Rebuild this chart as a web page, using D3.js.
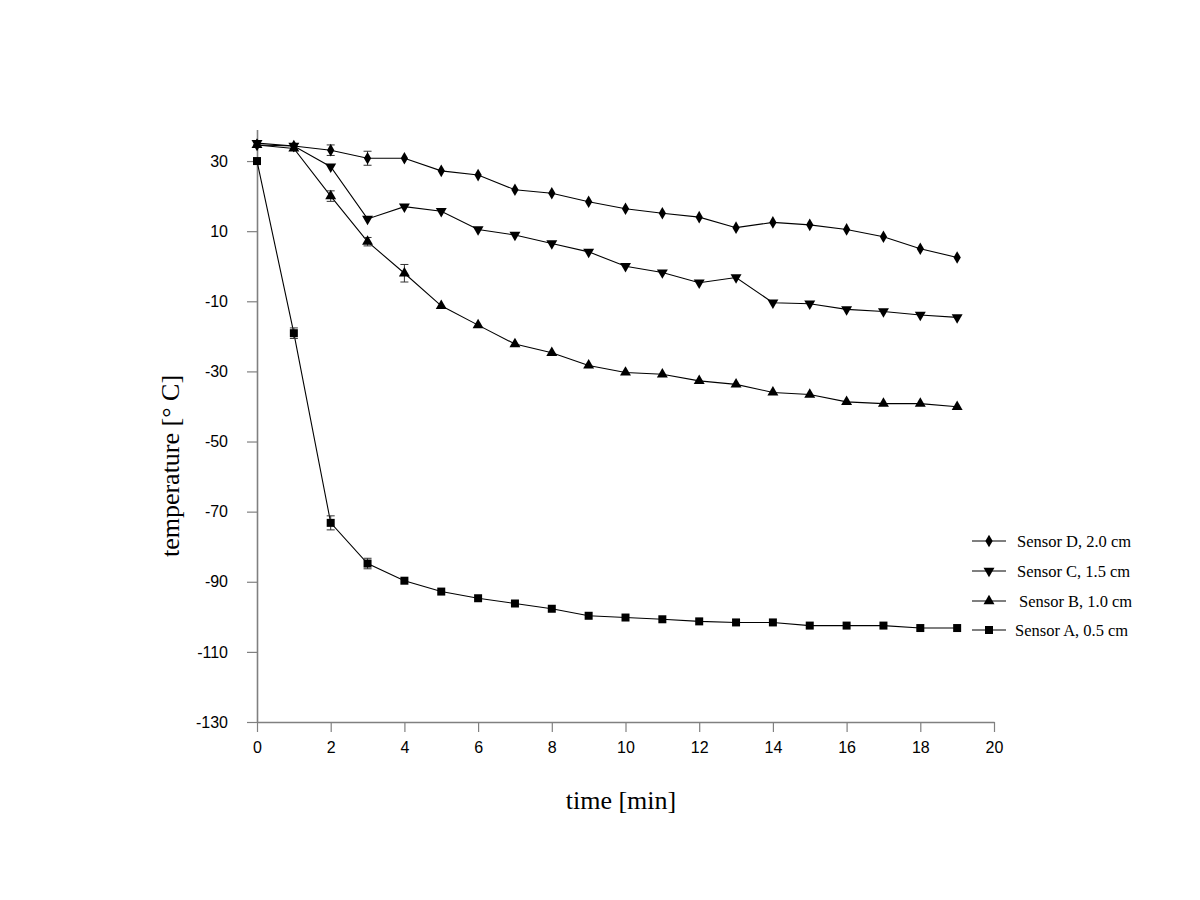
<!DOCTYPE html>
<html>
<head>
<meta charset="utf-8">
<script src="https://cdn.jsdelivr.net/npm/d3@7/dist/d3.min.js"></script>
<style>
  html, body { margin: 0; padding: 0; background: #fff; }
  svg { display: block; }
</style>
</head>
<body>
<svg id="chart" width="1200" height="900"></svg>
<script>
// ---- data ----
const times = [0,1,2,3,4,5,6,7,8,9,10,11,12,13,14,15,16,17,18,19];
const sensorD = [34.6,34.3,33.1,30.8,30.8,27.2,26.0,21.8,20.8,18.4,16.4,15.1,14.0,11.0,12.5,11.8,10.5,8.4,5.0,2.5];
const sensorC = [35.1,34.3,28.4,13.5,17.0,15.7,10.5,8.9,6.5,4.1,0.0,-1.8,-4.7,-3.2,-10.4,-10.7,-12.3,-12.9,-13.9,-14.6];
const sensorB = [34.6,33.6,20.0,7.0,-2.0,-11.3,-16.8,-22.2,-24.7,-28.3,-30.3,-30.8,-32.7,-33.7,-36.0,-36.6,-38.7,-39.2,-39.2,-40.1];
const sensorA = [30.0,-19.1,-73.2,-84.8,-89.7,-92.8,-94.7,-96.2,-97.7,-99.7,-100.2,-100.7,-101.3,-101.6,-101.6,-102.5,-102.5,-102.5,-103.2,-103.2];
const errD = [0,0,1.5,2.0,0,0,0,0,0,0,0,0,0,0,0,0,0,0,0,0];
const errC = [0,0,0,0,0,0,0,0,0,0,0,0,0,0,0,0,0,0,0,0];
const errB = [0,0,1.5,1.2,2.5,0,0,0,0,0,0,0,0,0,0,0,0,0,0,0];
const errA = [0,1.5,2.0,1.5,0,0,0,0,0,0,0,0,0,0,0,0,0,0,0,0];
const seriesNames = ["Sensor D, 2.0 cm","Sensor C, 1.5 cm","Sensor B, 1.0 cm","Sensor A, 0.5 cm"];
const xTicks = [0,2,4,6,8,10,12,14,16,18,20];
const yTicks = [30,10,-10,-30,-50,-70,-90,-110,-130];
const xTitle = "time [min]";
const yTitle = "temperature [° C]";

// ---- layout ----
const svg = d3.select("#chart");
const x = d3.scaleLinear().domain([0, 20]).range([257, 994]);
const y = d3.scaleLinear().domain([-130, 39]).range([722, 129.5]);
const axisColor = "#808080";
const fmt = d => String(d);

// axes
const xAxis = svg.append("g").attr("transform", `translate(0,${y(-130)})`)
  .call(d3.axisBottom(x).tickValues(xTicks).tickFormat(fmt).tickSize(10).tickSizeOuter(0).tickPadding(8));
const yAxis = svg.append("g").attr("transform", `translate(${x(0)},0)`)
  .call(d3.axisLeft(y).tickValues(yTicks).tickFormat(fmt).tickSize(10).tickSizeOuter(0).tickPadding(19));
[xAxis, yAxis].forEach(g => {
  g.select(".domain").attr("stroke", axisColor).attr("stroke-width", 1.6);
  g.selectAll(".tick line").attr("stroke", axisColor).attr("stroke-width", 1.2);
  g.selectAll(".tick text").attr("fill", "#000")
    .style("font-family", "'Liberation Sans', Arial, sans-serif").style("font-size", "16px");
});
xAxis.selectAll(".tick text").attr("dy", "0.8em");

// axis titles
svg.append("text").attr("x", 621).attr("y", 809).attr("text-anchor", "middle")
  .style("font-family", "'Liberation Serif', 'Times New Roman', serif").style("font-size", "26px")
  .text(xTitle);
svg.append("text").attr("transform", "translate(179,466) rotate(-90)").attr("text-anchor", "middle")
  .style("font-family", "'Liberation Serif', 'Times New Roman', serif").style("font-size", "26px")
  .text(yTitle);

// series
const series = [
  {name: seriesNames[0], vals: sensorD, err: errD, sym: d3.symbolDiamond, size: 46, rot: 0},
  {name: seriesNames[1], vals: sensorC, err: errC, sym: d3.symbolTriangle, size: 52, rot: 180},
  {name: seriesNames[2], vals: sensorB, err: errB, sym: d3.symbolTriangle, size: 52, rot: 0},
  {name: seriesNames[3], vals: sensorA, err: errA, sym: d3.symbolSquare, size: 64, rot: 0}
];

const line = d3.line().x(d => x(d.t)).y(d => y(d.v));

series.forEach(s => {
  const pts = times.map((t, i) => ({t, v: s.vals[i], e: s.err[i]}));
  const g = svg.append("g");
  g.append("path").datum(pts).attr("d", line)
    .attr("fill", "none").attr("stroke", "#000").attr("stroke-width", 1.1);
  // error bars
  const eb = g.selectAll(".eb").data(pts.filter(p => p.e > 0)).enter().append("g");
  eb.append("line").attr("x1", d => x(d.t)).attr("x2", d => x(d.t))
    .attr("y1", d => y(d.v + d.e)).attr("y2", d => y(d.v - d.e)).attr("stroke", "#333");
  eb.append("line").attr("x1", d => x(d.t) - 4).attr("x2", d => x(d.t) + 4)
    .attr("y1", d => y(d.v + d.e)).attr("y2", d => y(d.v + d.e)).attr("stroke", "#333");
  eb.append("line").attr("x1", d => x(d.t) - 4).attr("x2", d => x(d.t) + 4)
    .attr("y1", d => y(d.v - d.e)).attr("y2", d => y(d.v - d.e)).attr("stroke", "#333");
  // markers
  g.selectAll(".m").data(pts).enter().append("path")
    .attr("d", d3.symbol().type(s.sym).size(s.size))
    .attr("transform", d => `translate(${x(d.t)},${y(d.v)}) rotate(${s.rot})`)
    .attr("fill", "#000");
});

// legend
const legRows = [541, 571, 601, 630];
const legTextX = [1017, 1017, 1019, 1015];
series.forEach((s, i) => {
  const g = svg.append("g");
  const ly = legRows[i];
  g.append("line").attr("x1", 972).attr("x2", 1006).attr("y1", ly).attr("y2", ly)
    .attr("stroke", "#000").attr("stroke-width", 1.1);
  g.append("path").attr("d", d3.symbol().type(s.sym).size(s.size))
    .attr("transform", `translate(989,${ly}) rotate(${s.rot})`).attr("fill", "#000");
  g.append("text").attr("x", legTextX[i]).attr("y", ly).attr("dy", "0.35em")
    .style("font-family", "'Liberation Serif', 'Times New Roman', serif").style("font-size", "16.5px")
    .text(s.name);
});
</script>
</body>
</html>
